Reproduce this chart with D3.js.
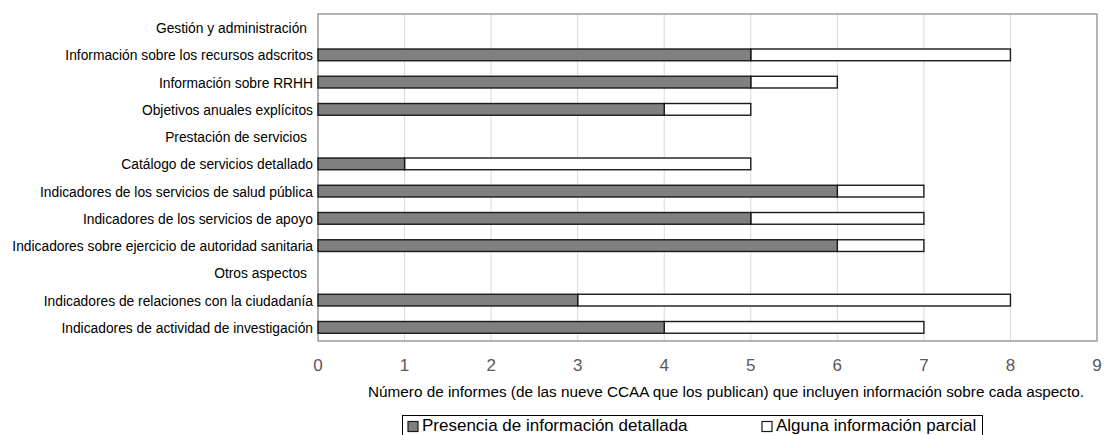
<!DOCTYPE html>
<html>
<head>
<meta charset="utf-8">
<script src="https://cdn.jsdelivr.net/npm/d3@7"></script>
<style>
  body { margin: 0; background: #fff; }
  svg { font-family: "Liberation Sans", Arial, sans-serif; display: block; }
</style>
</head>
<body>
<svg id="chart" width="1105" height="435"></svg>
<script>
const categories = [
  "Gestión y administración",
  "Información sobre los recursos adscritos",
  "Información sobre RRHH",
  "Objetivos anuales explícitos",
  "Prestación de servicios",
  "Catálogo de servicios detallado",
  "Indicadores de los servicios de salud pública",
  "Indicadores de los servicios de apoyo",
  "Indicadores sobre ejercicio de autoridad sanitaria",
  "Otros aspectos",
  "Indicadores de relaciones con la ciudadanía",
  "Indicadores de actividad de investigación"
];
// null = section heading row, no bar
const detallada = [null, 5, 5, 4, null, 1, 6, 5, 6, null, 3, 4];
const parcial = [null, 3, 1, 1, null, 4, 1, 2, 1, null, 5, 3];
const xTicks = [0, 1, 2, 3, 4, 5, 6, 7, 8, 9];
const seriesNames = ["Presencia de información detallada", "Alguna información parcial"];
const axisTitle = "Número de informes (de las nueve CCAA que los publican) que incluyen información sobre cada aspecto.";

const margin = { left: 318, right: 1097, top: 14, bottom: 341 };
const svg = d3.select("#chart");

const x = d3.scaleLinear().domain([0, 9]).range([margin.left, margin.right]);
const y = d3.scaleBand().domain(categories).range([margin.top, margin.bottom]).paddingInner(0.57).paddingOuter(0.285);

// gridlines
svg.append("g")
  .selectAll("line")
  .data(xTicks.slice(1, -1))
  .enter()
  .append("line")
  .attr("x1", d => x(d)).attr("x2", d => x(d))
  .attr("y1", margin.top).attr("y2", margin.bottom)
  .attr("stroke", "#d9d9d9").attr("stroke-width", 1);

// plot frame
svg.append("rect")
  .attr("x", margin.left).attr("y", margin.top)
  .attr("width", margin.right - margin.left).attr("height", margin.bottom - margin.top)
  .attr("fill", "none").attr("stroke", "#8c8c8c").attr("stroke-width", 1.3);

const rows = categories.map((c, i) => ({ c, a: detallada[i], b: parcial[i] })).filter(d => d.a !== null);

// partial segment
svg.append("g")
  .selectAll("rect")
  .data(rows)
  .enter()
  .append("rect")
  .attr("x", d => x(d.a))
  .attr("y", d => y(d.c))
  .attr("width", d => x(d.a + d.b) - x(d.a))
  .attr("height", y.bandwidth())
  .attr("fill", "#fff").attr("stroke", "#1a1a1a").attr("stroke-width", 1.4);

// detailed segment
svg.append("g")
  .selectAll("rect")
  .data(rows)
  .enter()
  .append("rect")
  .attr("x", x(0))
  .attr("y", d => y(d.c))
  .attr("width", d => x(d.a) - x(0))
  .attr("height", y.bandwidth())
  .attr("fill", "#808080").attr("stroke", "#1a1a1a").attr("stroke-width", 1.4);

// category labels
svg.append("g")
  .selectAll("text")
  .data(categories)
  .enter()
  .append("text")
  .attr("x", d => /^(Gestión|Prestación|Otros)/.test(d) ? 307 : 313)
  .attr("y", d => y(d) + y.bandwidth() / 2)
  .attr("dy", "0.4em")
  .attr("text-anchor", "end")
  .attr("font-size", 13.8)
  .attr("fill", "#000")
  .text(d => d);

// x tick labels
svg.append("g")
  .selectAll("text")
  .data(xTicks)
  .enter()
  .append("text")
  .attr("x", d => x(d))
  .attr("y", 365)
  .attr("dy", "0.35em")
  .attr("text-anchor", "middle")
  .attr("font-size", 17)
  .attr("fill", "#595959")
  .text(d => d);

svg.append("text")
  .attr("x", 726).attr("y", 392).attr("dy", "0.35em")
  .attr("text-anchor", "middle")
  .attr("font-size", 15.3)
  .text(axisTitle);

// legend
const lg = svg.append("g");
lg.append("rect")
  .attr("x", 402.5).attr("y", 415.5).attr("width", 580).attr("height", 30)
  .attr("fill", "none").attr("stroke", "#000").attr("stroke-width", 1);
const legendX = [408, 762];
const legendFill = ["#808080", "#fff"];
seriesNames.forEach((name, i) => {
  lg.append("rect")
    .attr("x", legendX[i]).attr("y", 421.5).attr("width", 10).attr("height", 10)
    .attr("fill", legendFill[i]).attr("stroke", "#1a1a1a").attr("stroke-width", 1.2);
  lg.append("text")
    .attr("x", legendX[i] + 14).attr("y", 431)
    .attr("font-size", 17)
    .text(name);
});
</script>
</body>
</html>
